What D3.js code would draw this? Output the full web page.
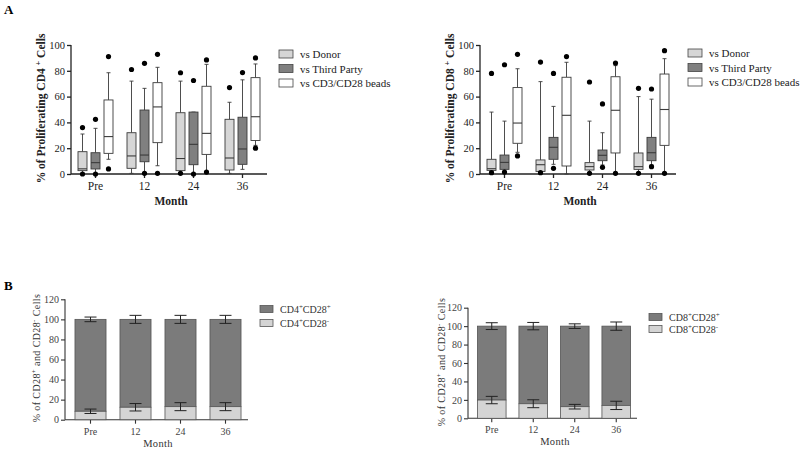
<!DOCTYPE html>
<html><head><meta charset="utf-8">
<script src="https://cdn.jsdelivr.net/npm/d3@7"></script>
<style>
body{margin:0;background:#fff;}
text{font-family:"Liberation Serif","Times New Roman",serif;}
</style></head>
<body><svg id="c" width="800" height="450"></svg>
<script>
// ---------- data ----------
const months = ["Pre", "12", "24", "36"];
const yTicksA = [0, 20, 40, 60, 80, 100];
const yTicksB = [0, 20, 40, 60, 80, 100, 120];
const seriesA = ["vs Donor", "vs Third Party", "vs CD3/CD28 beads"];

// box stats per month: [whiskerLow, q1, median, q3, whiskerHigh]
const cd4Donor = [[0.5, 2.6, 4, 17.3, 31], [0.5, 4.4, 14, 32, 72], [1, 2.6, 12, 47.5, 72], [0.5, 3.1, 12.4, 42.4, 55.6]];
const cd4Third = [[0, 3.9, 8.8, 16.5, 35.4], [1, 9.5, 14.7, 49.6, 66.4], [0, 7.2, 23, 48, 48], [3.6, 7.5, 19.4, 44, 73]];
const cd4Beads = [[11.4, 16, 29, 57.4, 78.5], [6.4, 24.3, 52, 70.8, 82.7], [0.5, 15.2, 31.5, 68, 85], [22.2, 26, 44.4, 74.7, 85.3]];
const cd4DonorOut = [[36, 0], [81], [78.5, 0.5], [67]];
const cd4ThirdOut = [[42.4, 0], [85.8, 0.5], [72.5, 0], [78.6]];
const cd4BeadsOut = [[91, 3.9], [92.8, 0.5], [88.4, 1.5], [90, 20]];

const cd8Donor = [[0, 2.8, 4.1, 11.4, 48], [0, 2, 7.2, 10.9, 71.6], [0, 3.1, 5.7, 8.8, 41], [0, 3.6, 5.7, 16.3, 60]];
const cd8Third = [[1, 3.6, 9, 14.7, 41], [7.5, 11.4, 20.7, 28.4, 52.4], [7, 10.3, 14.5, 18.6, 32], [7, 10.3, 16.5, 28.4, 58]];
const cd8Beads = [[16.8, 23.8, 39.5, 67, 81.6], [0, 6.2, 45.5, 75, 86.6], [0, 16.3, 49.4, 75.4, 84], [0, 22.2, 50, 77.5, 89.4]];
const cd8DonorOut = [[78, 1], [86.8, 1], [71.3, 0.5], [66.4, 0.5]];
const cd8ThirdOut = [[84.7, 1.5], [78, 4.4], [54.3, 5.2], [65.9, 5.7]];
const cd8BeadsOut = [[92.8, 14], [91], [86, 0.5], [95.6, 0.5]];

// panel B: % CD28- (mean, sem) ; CD28+ stacks to 100
const cd4Neg = [8.4, 12.4, 13, 13];
const cd4NegErr = [2.2, 3.7, 4, 4];
const cd4TotErr = [2.3, 4, 4, 4];
const cd8Neg = [19.8, 15.8, 12.6, 14];
const cd8NegErr = [4, 4.3, 2.5, 4.5];
const cd8TotErr = [3.7, 4, 2.5, 4.5];

// ---------- drawing ----------
const svg = d3.select("#c");
const boxFill = ["#d6d6d6", "#808080", "#ffffff"];

svg.append("text").attr("x", 4).attr("y", 14).attr("font-size", 13).attr("font-weight", "bold").text("A");
svg.append("text").attr("x", 4).attr("y", 290).attr("font-size", 13).attr("font-weight", "bold").text("B");

function yLabel(g, x, y, parts, size, weight, fill) {
  const t = g.append("text").attr("transform", `translate(${x},${y}) rotate(-90)`)
    .attr("text-anchor", "middle").attr("font-size", size).attr("font-weight", weight).attr("fill", fill);
  parts.forEach(p => {
    if (p.sup) t.append("tspan").attr("baseline-shift", "super").attr("font-size", size * 0.7).text(p.t);
    else t.append("tspan").text(p.t);
  });
  return t;
}

function boxPanel(o) {
  const g = svg.append("g");
  const x = d3.scaleBand().domain(months).range(o.xr).paddingInner(0).paddingOuter(0);
  const y = d3.scaleLinear().domain([0, 100]).range(o.yr);
  const yAx = g.append("g").attr("transform", `translate(${o.xr[0]},0)`)
    .call(d3.axisLeft(y).tickValues(yTicksA).tickSize(4).tickPadding(2));
  const xAx = g.append("g").attr("transform", `translate(0,${o.yr[0]})`)
    .call(d3.axisBottom(x).tickSize(4).tickPadding(4));
  [yAx, xAx].forEach(a => {
    a.selectAll("path,line").attr("stroke", "#222").attr("stroke-width", 1.3);
    a.selectAll("text").attr("font-family", "Liberation Serif, serif").attr("fill", "#222");
  });
  yAx.selectAll("text").attr("font-size", 10.5);
  xAx.selectAll("text").attr("font-size", 11.5);
  xAx.select(".domain").attr("d", `M${o.xr[0]},0H${o.xr[1]}`);
  yAx.select(".domain").attr("d", `M0,${o.yr[0]}V${o.yr[1]}`);

  const bw = 9, off = 13;
  o.stats.forEach((ser, k) => {
    ser.forEach((s, i) => {
      const cx = x(months[i]) + x.bandwidth() / 2 + (k - 1) * off;
      const [lo, q1, md, q3, hi] = s;
      const gg = g.append("g").attr("stroke", "#3a3a3a").attr("stroke-width", 0.9);
      gg.append("line").attr("x1", cx).attr("x2", cx).attr("y1", y(hi)).attr("y2", y(q3));
      gg.append("line").attr("x1", cx).attr("x2", cx).attr("y1", y(q1)).attr("y2", y(lo));
      gg.append("line").attr("x1", cx - 2).attr("x2", cx + 2).attr("y1", y(hi)).attr("y2", y(hi));
      gg.append("line").attr("x1", cx - 2).attr("x2", cx + 2).attr("y1", y(lo)).attr("y2", y(lo));
      gg.append("rect").attr("x", cx - bw / 2).attr("width", bw).attr("y", y(q3)).attr("height", y(q1) - y(q3))
        .attr("fill", boxFill[k]);
      gg.append("line").attr("x1", cx - bw / 2).attr("x2", cx + bw / 2).attr("y1", y(md)).attr("y2", y(md)).attr("stroke-width", 1.1);
      o.outs[k][i].forEach(v => {
        g.append("circle").attr("cx", cx).attr("cy", y(v)).attr("r", 2.6).attr("fill", "#000");
      });
    });
  });

  yLabel(g, o.ylx, (o.yr[0] + o.yr[1]) / 2 - 1,
    [{t: "% of Proliferating " + o.cell + " "}, {t: "+", sup: true}, {t: " Cells"}], 11.5, "bold", "#222");
  g.append("text").attr("x", (o.xr[0] + o.xr[1]) / 2 + 2).attr("y", 205).attr("text-anchor", "middle")
    .attr("font-size", 11.5).attr("font-weight", "bold").attr("fill", "#222").text("Month");

  const lg = g.append("g");
  seriesA.forEach((s, k) => {
    const cy = o.legY + k * 14.5;
    lg.append("rect").attr("x", o.legX).attr("y", cy - 4).attr("width", 14).attr("height", 8)
      .attr("fill", boxFill[k]).attr("stroke", "#444").attr("stroke-width", 0.8);
    lg.append("text").attr("x", o.legX + 21).attr("y", cy + 4).attr("font-size", 11).attr("fill", "#222").text(s);
  });
}

boxPanel({xr: [71, 267], yr: [174, 45], stats: [cd4Donor, cd4Third, cd4Beads],
  outs: [cd4DonorOut, cd4ThirdOut, cd4BeadsOut], cell: "CD4", ylx: 45, legX: 279, legY: 54});
boxPanel({xr: [480, 676], yr: [174, 45], stats: [cd8Donor, cd8Third, cd8Beads],
  outs: [cd8DonorOut, cd8ThirdOut, cd8BeadsOut], cell: "CD8", ylx: 454, legX: 688, legY: 53});

function barPanel(o) {
  const g = svg.append("g");
  const x = d3.scaleBand().domain(months).range(o.xr).paddingInner(0).paddingOuter(0);
  const y = d3.scaleLinear().domain([0, 120]).range(o.yr);
  const yAx = g.append("g").attr("transform", `translate(${o.xr[0] - 3},0)`)
    .call(d3.axisLeft(y).tickValues(yTicksB).tickSize(4).tickPadding(2));
  const xAx = g.append("g").attr("transform", `translate(0,${o.yr[0]})`)
    .call(d3.axisBottom(x).tickSize(4).tickPadding(4));
  [yAx, xAx].forEach(a => {
    a.selectAll("path,line").attr("stroke", "#333").attr("stroke-width", 1.1);
    a.selectAll("text").attr("font-family", "Liberation Serif, serif").attr("fill", "#444").attr("font-size", 10);
  });
  xAx.select(".domain").attr("d", `M${o.xr[0] - 3},0H${o.xr[1]}`);
  yAx.select(".domain").attr("d", `M0,${o.yr[0]}V${o.yr[1]}`);

  const bw = x.bandwidth() * 0.69;
  o.neg.forEach((v, i) => {
    const cx = x(months[i]) + x.bandwidth() / 2;
    g.append("rect").attr("x", cx - bw / 2).attr("width", bw).attr("y", y(100)).attr("height", y(v) - y(100))
      .attr("fill", "#7b7b7b").attr("stroke", "#555").attr("stroke-width", 0.8);
    g.append("rect").attr("x", cx - bw / 2).attr("width", bw).attr("y", y(v)).attr("height", y(0) - y(v))
      .attr("fill", "#d4d4d4").attr("stroke", "#555").attr("stroke-width", 0.8);
    [[v, o.negErr[i]], [100, o.totErr[i]]].forEach(([m, e]) => {
      const eg = g.append("g").attr("stroke", "#222").attr("stroke-width", 1);
      eg.append("line").attr("x1", cx).attr("x2", cx).attr("y1", y(m + e)).attr("y2", y(m - e));
      eg.append("line").attr("x1", cx - 6).attr("x2", cx + 6).attr("y1", y(m + e)).attr("y2", y(m + e));
      eg.append("line").attr("x1", cx - 6).attr("x2", cx + 6).attr("y1", y(m - e)).attr("y2", y(m - e));
    });
  });

  yLabel(g, o.ylx, o.ylY,
    [{t: "% of CD28"}, {t: "+", sup: true}, {t: " and CD28"}, {t: "-", sup: true}, {t: " Cells"}], 10, "normal", "#333")
    .attr("letter-spacing", 0.4);
  g.append("text").attr("x", o.mx).attr("y", o.my).attr("text-anchor", "middle")
    .attr("font-size", 10.5).attr("fill", "#333").attr("letter-spacing", 0.3).text("Month");

  const labs = [[o.cell, "+", "CD28", "+", "#7b7b7b"], [o.cell, "+", "CD28", "-", "#d4d4d4"]];
  labs.forEach((l, k) => {
    const cy = o.legY + k * o.legDy;
    g.append("rect").attr("x", o.legX).attr("y", cy - 3.5).attr("width", 13).attr("height", 7)
      .attr("fill", l[4]).attr("stroke", "#555").attr("stroke-width", 0.8);
    const t = g.append("text").attr("x", o.legX + 20).attr("y", cy + 4).attr("font-size", 10).attr("fill", "#333");
    t.append("tspan").text(l[0]);
    t.append("tspan").attr("baseline-shift", "super").attr("font-size", 7).text(l[1]);
    t.append("tspan").text(l[2]);
    t.append("tspan").attr("baseline-shift", "super").attr("font-size", 7).text(l[3]);
  });
}

barPanel({xr: [68, 248], yr: [419.7, 299.3], neg: cd4Neg, negErr: cd4NegErr, totErr: cd4TotErr,
  cell: "CD4", ylx: 40, ylY: 358, mx: 158, my: 447, legX: 260, legY: 309, legDy: 14});
barPanel({xr: [471, 637], yr: [418.3, 307.7], neg: cd8Neg, negErr: cd8NegErr, totErr: cd8TotErr,
  cell: "CD8", ylx: 445, ylY: 362, mx: 555, my: 445, legX: 649, legY: 317, legDy: 12});
</script></body></html>
